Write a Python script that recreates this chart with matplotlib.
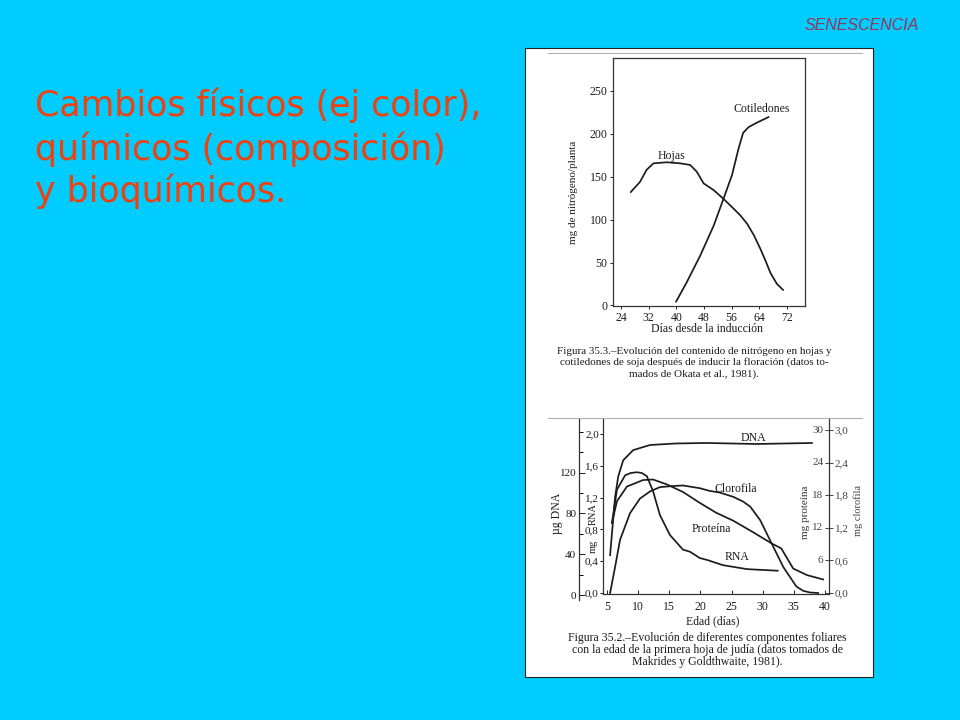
import matplotlib
matplotlib.use('Agg')
import matplotlib.pyplot as plt
from matplotlib.patches import Rectangle
from matplotlib.lines import Line2D
from matplotlib.ticker import MultipleLocator

# ---------------- data ----------------
# Figure 35.3 : nitrogen (mg/planta) vs dias desde la induccion
hojas_dias = [26.8, 29.5, 31.4, 33.4, 37.2, 41.1, 44.0, 45.9, 47.9, 50.8, 53.7, 56.5, 58.5, 60.5, 62.4, 64.3, 65.8, 67.2, 69.1, 70.9]
hojas_n = [132, 144, 158, 165.6, 166.8, 165.6, 163.7, 155.9, 142.2, 134.4, 124, 113, 105, 95, 82, 66, 52, 38, 25, 18]
cot_dias = [39.9, 43.0, 46.9, 50.8, 53.7, 56.1, 58.0, 59.3, 60.9, 63.3, 66.7]
cot_n = [4.3, 27, 58, 93, 125, 152, 183, 201, 207.8, 213, 219.6]
top_xticks = [24, 32, 40, 48, 56, 64, 72]
top_yticks = [0, 50, 100, 150, 200, 250]

# Figure 35.2 : componentes foliares vs edad (dias)
dna_dias = [5.5, 5.75, 6.3, 6.8, 7.6, 9.2, 11.9, 16.0, 21.0, 29.0, 37.9]
dna_ug = [39, 57, 96, 116, 132, 142, 147, 148.5, 149, 148, 149]
rna_dias = [5.8, 6.6, 7.9, 8.8, 9.8, 10.6, 11.4, 12.4, 13.5, 15.1, 17.2, 18.3, 19.9, 21.1, 23.6, 27.5, 32.4]
rna_mg = [0.88, 1.30, 1.48, 1.51, 1.52, 1.51, 1.47, 1.28, 0.98, 0.73, 0.545, 0.52, 0.44, 0.415, 0.35, 0.30, 0.28]
prot_dias = [5.8, 6.6, 8.2, 10.8, 12.4, 14.6, 17.2, 19.9, 22.5, 25.3, 28.3, 31.4, 33.0, 33.6, 34.9, 37.1, 39.7]
prot_mg = [12.9, 16.9, 19.6, 20.8, 20.9, 20.0, 18.6, 16.6, 14.8, 13.3, 11.3, 9.15, 8.2, 7.0, 4.5, 3.3, 2.5]
clor_dias = [5.5, 6.3, 7.1, 8.7, 10.3, 11.9, 13.5, 15.6, 17.2, 19.9, 21.5, 23.1, 25.3, 26.9, 28.0, 29.6, 31.4, 33.3, 35.4, 36.5, 37.6, 38.9]
clor_mg = [0.0, 0.48, 0.98, 1.47, 1.74, 1.87, 1.95, 1.97, 1.98, 1.93, 1.88, 1.85, 1.77, 1.68, 1.59, 1.34, 0.92, 0.48, 0.12, 0.04, 0.01, 0.0]

bot_xticks = [5, 10, 15, 20, 25, 30, 35, 40]
rna_ticks = [0.0, 0.4, 0.8, 1.2, 1.6, 2.0]
rna_labels = ['0,0', '0,4', '0,8', '1,2', '1,6', '2,0']
dna_ticks = [0, 40, 80, 120]
dna_labels = ['0', '40', '80', '120']
clor_ticks = [0.0, 0.6, 1.2, 1.8, 2.4, 3.0]
clor_labels = ['0,0', '0,6', '1,2', '1,8', '2,4', '3,0']
prot_ticks = [6, 12, 18, 24, 30]
prot_labels = ['6', '12', '18', '24', '30']

title_lines = ['Cambios físicos (ej color),', 'químicos (composición)', 'y bioquímicos.']
cap_top = ['Figura 35.3.–Evolución del contenido de nitrógeno en hojas y',
           'cotiledones de soja después de inducir la floración (datos to-',
           'mados de Okata et al., 1981).']
cap_bot = ['Figura 35.2.–Evolución de diferentes componentes foliares',
           'con la edad de la primera hoja de judía (datos tomados de',
           'Makrides y Goldthwaite, 1981).']

# ---------------- figure ----------------
W, H = 960, 720
BG = '#00CCFF'
INK = '#1c1c1c'
SERIF = ['Liberation Serif', 'DejaVu Serif']
plt.rcParams['font.family'] = SERIF

fig = plt.figure(figsize=(9.6, 7.2), dpi=100)
fig.patch.set_facecolor(BG)


def rect(l, t, r, b):
    return [l / W, 1 - b / H, (r - l) / W, (b - t) / H]


def ftext(x, y, s, **kw):
    return fig.text(x / W, 1 - y / H, s, **kw)


# white scanned page
fig.add_artist(Rectangle((525 / W, 1 - 677 / H), 348 / W, 629 / H, transform=fig.transFigure,
                         facecolor='white', edgecolor='#222222', lw=0.8, zorder=-5))
for yy in (53, 418):
    fig.add_artist(Line2D([548 / W, 862 / W], [1 - yy / H, 1 - yy / H], transform=fig.transFigure,
                          color='#b0b0b0', lw=0.8, zorder=-4))

# slide texts
for line, yb in zip(title_lines, [116, 160, 202]):
    ftext(35, yb, line, fontsize=25, color='#F2400C', family=['DejaVu Sans'], va='baseline', ha='left')
ftext(861.5, 26, 'SENESCENCIA', fontsize=11.5, style='italic', color='#993358',
      family=['Liberation Sans', 'DejaVu Sans'], ha='center', va='center')

# ---------------- top chart ----------------
ax1 = fig.add_axes(rect(613, 58, 805, 306))
ax1.set_facecolor('white')
ax1.plot(hojas_dias, hojas_n, color=INK, lw=1.25, solid_capstyle='round')
ax1.plot(cot_dias, cot_n, color=INK, lw=1.25, solid_capstyle='round')
ax1.set_xlim(21.69, 77.2)
ax1.set_ylim(-0.6, 288.3)
ax1.set_xticks(top_xticks)
ax1.set_yticks(top_yticks)
ax1.tick_params(direction='out', length=2.5, width=0.7, labelsize=8.5, pad=1.5, colors=INK)
for s in ax1.spines.values():
    s.set_linewidth(0.9)
    s.set_color('#333333')
ftext(573, 192, 'mg de nitrógeno/planta', rotation=90, ha='center', va='center', fontsize=8, color=INK)
ftext(707, 329, 'Días desde la inducción', ha='center', va='center', fontsize=8.5, color=INK)
ftext(671.5, 156, 'Hojas', ha='center', va='center', fontsize=8.5, color=INK)
ftext(761.5, 109, 'Cotiledones', ha='center', va='center', fontsize=8.5, color=INK)
for line, yy in zip(cap_top, [351, 362.5, 374]):
    ftext(694, yy, line, ha='center', va='center', fontsize=8.0, color=INK)

# ---------------- bottom chart ----------------
axm = fig.add_axes(rect(603, 419, 829, 594))
axm.set_facecolor('white')
axm.plot(rna_dias, rna_mg, color=INK, lw=1.25)
axm.set_xlim(4.36, 40.64)
axm.set_ylim(-0.013, 2.19)
axm.spines['top'].set_visible(False)
axm.spines['right'].set_visible(False)
for s in ('left', 'bottom'):
    axm.spines[s].set_linewidth(0.9)
    axm.spines[s].set_color('#333333')
axm.set_xticks(bot_xticks)
axm.set_yticks(rna_ticks)
axm.set_yticklabels(rna_labels)
axm.tick_params(axis='x', direction='in', length=3, width=0.7, labelsize=8.5, pad=5, colors=INK)
axm.tick_params(axis='y', direction='out', length=2, width=0.7, labelsize=8, pad=1, colors=INK)

# DNA (curve on twin, scale on outer axis)
axdna = axm.twinx()
axdna.plot(dna_dias, dna_ug, color=INK, lw=1.25)
axdna.set_ylim(0.98, 172.5)
axdna.set_axis_off()

axd = fig.add_axes(rect(579, 419, 590, 600))
axd.patch.set_visible(False)
for s in ('top', 'right', 'bottom'):
    axd.spines[s].set_visible(False)
axd.spines['left'].set_linewidth(0.9)
axd.spines['left'].set_color('#333333')
axd.set_xticks([])
axd.set_ylim(-4.9, 172.5)
axd.set_yticks(dna_ticks)
axd.set_yticklabels(dna_labels)
axd.yaxis.set_minor_locator(MultipleLocator(20))
axd.tick_params(axis='y', which='major', direction='in', length=4, width=0.7, labelsize=8, pad=2, colors=INK)
axd.tick_params(axis='y', which='minor', direction='in', length=3, width=0.7)

# Clorofila (right scale)
axc = axm.twinx()
axc.plot(clor_dias, clor_mg, color=INK, lw=1.25)
axc.set_ylim(-0.018, 3.204)
for s in ('top', 'left', 'bottom'):
    axc.spines[s].set_visible(False)
axc.spines['right'].set_linewidth(0.9)
axc.spines['right'].set_color('#333333')
axc.set_yticks(clor_ticks)
axc.set_yticklabels(clor_labels)
axc.tick_params(axis='y', direction='inout', length=6, width=0.7, labelsize=8, pad=1, colors='#444444')

# Proteina (scale labels inside the right spine)
axp = axm.twinx()
axp.plot(prot_dias, prot_mg, color=INK, lw=1.25)
axp.set_ylim(-0.18, 32.04)
axp.set_axis_off()
for v, lab in zip(prot_ticks, prot_labels):
    axp.annotate(lab, xy=(1, v), xycoords=('axes fraction', 'data'), xytext=(-4, 0),
                 textcoords='offset points', ha='right', va='center', fontsize=8, color='#444444')

ftext(557, 513, 'µg DNA', rotation=90, ha='center', va='center', fontsize=8.5, color=INK)
# "mg RNA" sits between the RNA tick labels, as in the scan
ftext(593, 514, 'RNA', rotation=90, ha='center', va='center', fontsize=7.5, color=INK)
ftext(593, 546, 'mg', rotation=90, ha='center', va='center', fontsize=7.5, color=INK)
ftext(805, 512, 'mg proteína', rotation=90, ha='center', va='center', fontsize=8, color='#333333')
ftext(858, 510, 'mg clorofila', rotation=90, ha='center', va='center', fontsize=7.5, color='#444444')
ftext(753, 438, 'DNA', ha='center', va='center', fontsize=8.5, color=INK)
ftext(736, 489, 'Clorofila', ha='center', va='center', fontsize=8.5, color=INK)
ftext(711, 529, 'Proteína', ha='center', va='center', fontsize=8.5, color=INK)
ftext(737, 557, 'RNA', ha='center', va='center', fontsize=8.5, color=INK)
ftext(713, 621, 'Edad (días)', ha='center', va='center', fontsize=8.5, color=INK)
for line, yy in zip(cap_bot, [638, 650, 662]):
    ftext(707, yy, line, ha='center', va='center', fontsize=8.5, color=INK)

fig.savefig('out.png', dpi=100, facecolor=fig.get_facecolor())
